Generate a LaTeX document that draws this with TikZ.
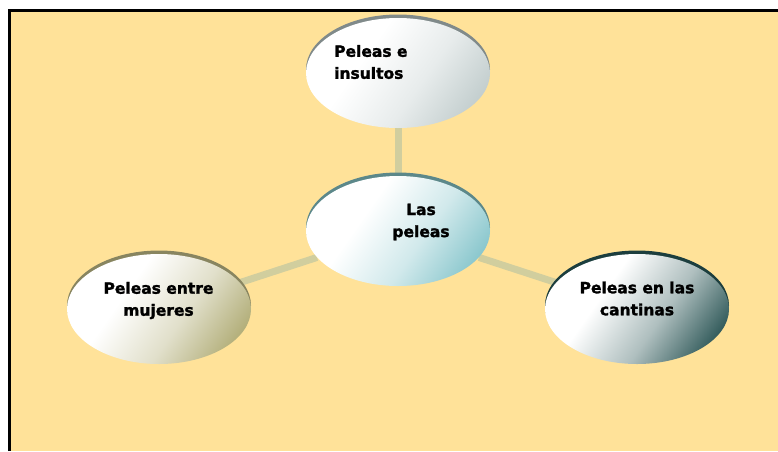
\documentclass[tikz,border=0pt]{standalone}
\usepackage{fontspec}
\setmainfont{DejaVu Sans}
\newfontfamily\heavyfont[FakeBold=1.6]{DejaVu Sans Bold}
\usetikzlibrary{shapes.geometric}
\usetikzlibrary{shadows}
\usetikzlibrary{backgrounds}
\usetikzlibrary{positioning}
\definecolor{paper}{RGB}{255,226,153}
\definecolor{link}{RGB}{209,206,158}
\definecolor{greyshade}{RGB}{196,207,207}
\definecolor{greyrim}{RGB}{128,138,138}
\definecolor{tealshade}{RGB}{140,200,206}
\definecolor{tealrim}{RGB}{92,136,138}
\definecolor{oliveshade}{RGB}{180,176,124}
\definecolor{oliverim}{RGB}{136,133,96}
\definecolor{slateshade}{RGB}{55,95,95}
\definecolor{slaterim}{RGB}{28,62,62}
\colorlet{glowbottom}{gray}
\pgfdeclareverticalshading[glowbottom]{glow}{100bp}{color(0bp)=(glowbottom); color(24bp)=(glowbottom); color(42bp)=(glowbottom!40!white); color(62bp)=(white); color(100bp)=(white)}
\begin{document}
\begin{tikzpicture}[x=1pt,y=-1pt,
	bubble/.style={ellipse, 
				minimum width=184pt, 
				minimum height=110pt, 
				inner sep=0pt,
				/utils/exec={\colorlet{glowbottom}{#1}},
				shade, shading=glow,
				shading angle=55},
	rim/.style={general shadow={fill=#1, shadow yshift=3.5pt}},
	word/.style={inner sep=0pt,
				font=\heavyfont\fontsize{15.5}{22}\selectfont},
	wire/.style={draw=link, line width=7pt}]
	\useasboundingbox (0,0) rectangle (778,451);
	\node[bubble=greyshade, rim=greyrim] (insults) at (398,73) {};
	\node[bubble=tealshade, rim=tealrim] (fights) at (398,231) {};
	\node[bubble=oliveshade, rim=oliverim] (women) at (159,309) {};
	\node[bubble=slateshade, rim=slaterim] (bars) at (637,309) {};
	\node[word, align=left, anchor=west] (t1) at (334,62) {Peleas e\\insultos};
	\node[word, align=center] (t2) at (421,222) {Las\\peleas};
	\node[word, align=center] (t3) at (158.5,300.5) {Peleas entre\\mujeres};
	\node[word, align=center] (t4) at (637,298.5) {Peleas en las\\cantinas};
	\begin{pgfonlayer}{background}
		\fill[paper] (9.5,10.5) rectangle (778,451);
		\draw[line width=3pt] (9.5,451) -- (9.5,10.5) -- (778,10.5);
		\draw[wire] (fights) -- (insults);
		\draw[wire] (fights) -- (women);
		\draw[wire] (fights) -- (bars);
	\end{pgfonlayer}
\end{tikzpicture}
\end{document}
